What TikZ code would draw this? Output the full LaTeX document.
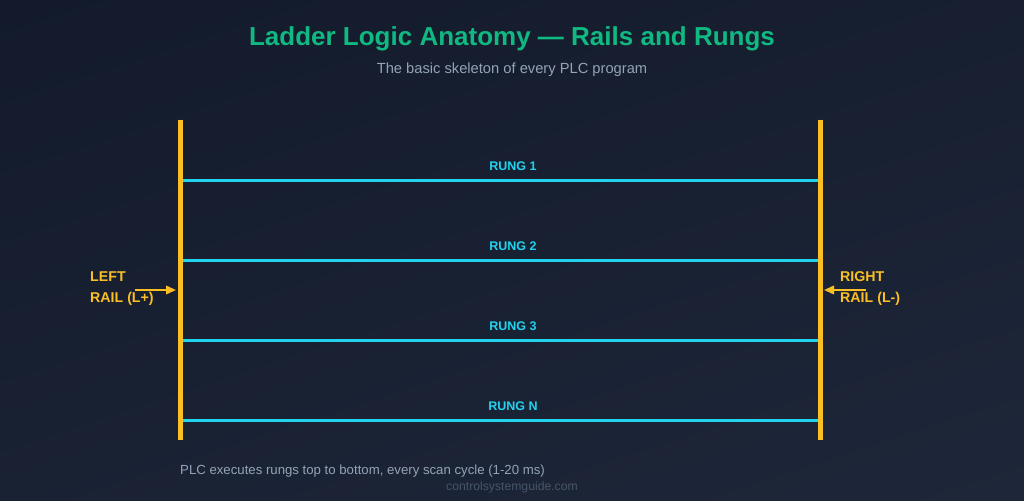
\documentclass[tikz,border=0pt]{standalone}
\usepackage{fontspec}
\setmainfont{Liberation Sans}
\usetikzlibrary{arrows.meta,shadings}
\definecolor{bgA}{HTML}{121A2B}
\definecolor{bgB}{HTML}{1E2739}
\definecolor{railc}{HTML}{FBBF24}
\definecolor{rungc}{HTML}{22D3EE}
\definecolor{titlec}{HTML}{10B981}
\definecolor{subc}{HTML}{94A3B8}
\definecolor{markc}{HTML}{475569}
\tikzset{
  rail/.style={draw=railc, line width=5pt},
  rung/.style={draw=rungc, line width=3pt},
  runglabel/.style={text=rungc, font=\bfseries\fontsize{12.5}{14}\selectfont, inner sep=0pt},
  raillabel/.style={text=railc, font=\bfseries\fontsize{14.2}{21}\selectfont, align=left, inner sep=0pt},
  railarrow/.style={draw=railc, line width=2pt, -{Triangle[length=10pt,width=8.5pt]}},
}
\begin{document}
\begin{tikzpicture}[x=1pt,y=-1pt]
\useasboundingbox (0,0) rectangle (1024,500);
\shade[upper left=bgA, upper right=bgA!60!bgB, lower left=bgA!40!bgB, lower right=bgB] (0,0) rectangle (1024,500);
\node[text=titlec, font=\bfseries\fontsize{26}{30}\selectfont, inner sep=0pt] (title) at (512,39) {Ladder Logic Anatomy — Rails and Rungs};
\node[text=subc, font=\fontsize{14.7}{17}\selectfont, inner sep=0pt] (sub) at (512,70) {The basic skeleton of every PLC program};
% rails
\coordinate (lt) at (180,120); \coordinate (lb) at (180,440);
\coordinate (rt) at (820,120); \coordinate (rb) at (820,440);
% rungs
\foreach \y/\t [count=\i] in {180/1,260/2,340/3,420/N}{
  \coordinate (ra\i) at (180,\y); \coordinate (rb\i) at (820,\y);
  \draw[rung] (ra\i) -- (rb\i);
  \node[runglabel] (rl\i) at (513,\y-14) {RUNG \t};
}
\draw[rail] (lt) -- (lb);
\draw[rail] (rt) -- (rb);
% rail labels
\node[raillabel, anchor=north west] (ll) at (90,271.5) {LEFT\\RAIL (L+)};
\node[raillabel, anchor=north west] (rl) at (840,271.5) {RIGHT\\RAIL (L-)};
\coordinate (la0) at (135,290); \coordinate (la1) at (176,290);
\coordinate (ra0) at (866,290); \coordinate (ra1) at (824,290);
\draw[railarrow] (la0) -- (la1);
\draw[railarrow] (ra0) -- (ra1);
% footer
\node[text=subc, font=\fontsize{13.2}{15}\selectfont, inner sep=0pt, anchor=west] (foot) at (180,471) {PLC executes rungs top to bottom, every scan cycle (1-20 ms)};
\node[text=markc, font=\fontsize{12.2}{14}\selectfont, inner sep=0pt] (mark) at (512,487) {controlsystemguide.com};
\end{tikzpicture}
\end{document}
